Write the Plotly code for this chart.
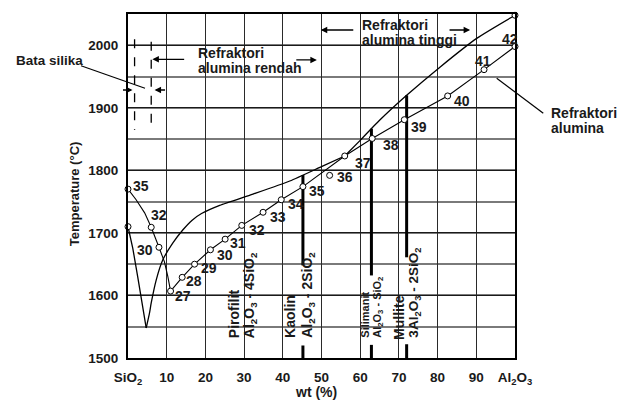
import numpy as np
import plotly.graph_objects as go

# ---------------- data ----------------
# SiO2-Al2O3 liquidus (left branch + right branch up to Al2O3)
liq_x = [0.0, 1.25, 2.5, 3.7, 4.7, 5.5, 6.0, 7.3, 9.0, 11.6, 14.2, 16.5, 19.0, 23.7, 32.3, 41.8, 50.0, 56.0, 60.0, 65.0, 72.0, 80.6, 90.1, 100.0]
liq_T = [1710, 1675, 1630, 1585, 1548, 1570, 1588, 1625, 1657, 1684, 1705, 1720, 1731, 1744, 1762, 1783, 1806, 1823, 1848, 1880, 1920, 1965, 2011, 2048]

# pyrometric cone curve of refractories (line path)
cone_line_x = [0.0, 2.1, 4.3, 6.0, 8.0, 9.4, 10.3, 11.0, 14.0, 17.2, 21.3, 25.1, 29.4, 34.9, 39.6, 45.2, 56.0, 63.1, 71.4, 82.6, 92.0, 100.0]
cone_line_T = [1770, 1753, 1732, 1709, 1677, 1654, 1630, 1607, 1629, 1650, 1673, 1690, 1712, 1733, 1753, 1774, 1823, 1851, 1881, 1919, 1961, 1998]

# cone points (marker + cone number)
cone_x = [0.0, 6.0, 8.0, 11.0, 14.0, 17.2, 21.3, 25.1, 29.4, 34.9, 39.6, 45.2, 52.1, 56.0, 63.1, 71.4, 82.6, 92.0, 100.0]
cone_T = [1770, 1709, 1677, 1607, 1629, 1650, 1673, 1690, 1712, 1733, 1753, 1774, 1792, 1823, 1851, 1881, 1919, 1961, 1998]
cone_lbl = ['35', '32', '30', '27', '28', '29', '30', '31', '32', '33', '34', '35', '36', '37', '38', '39', '40', '41', '42']

# compounds (wt% Al2O3)
comp_x = [45.2, 62.9, 72.0]          # Kaolin, Silimanit, Mullite lines
comp_low = [1648, 1632, 1661]       # lower end of the upper part of each line
comp_stub = [1520, 1521, 1522]      # top of short stub at the bottom

# silica brick range (dashed)
silika_x = [1.7, 6.0]

x_ticks = [0, 10, 20, 30, 40, 50, 60, 70, 80, 90, 100]
x_tick_text = ['SiO<sub>2</sub>', '10', '20', '30', '40', '50', '60', '70', '80', '90', 'Al<sub>2</sub>O<sub>3</sub>']
y_ticks = [1500, 1600, 1700, 1800, 1900, 2000]

# ---------------- figure ----------------
FONT = "Liberation Sans, Arial, sans-serif"
fig = go.Figure()

# composition lines
comp_top = np.interp(comp_x, liq_x[4:], liq_T[4:])
for cx, top, low, stub in zip(comp_x, comp_top, comp_low, comp_stub):
    fig.add_trace(go.Scatter(x=[cx, cx, None, cx, cx], y=[top, low, None, stub, 1500],
                             mode='lines', line=dict(color='black', width=3),
                             hoverinfo='skip', showlegend=False))

# liquidus: left branch (linear), right branch to the kink (smooth), high-alumina part (smooth)
i_min, i_kink = 4, 17
fig.add_trace(go.Scatter(x=liq_x[:i_min + 1], y=liq_T[:i_min + 1], mode='lines',
                         line=dict(color='black', width=1.3), showlegend=False))
fig.add_trace(go.Scatter(x=liq_x[i_min:i_kink + 1], y=liq_T[i_min:i_kink + 1], mode='lines',
                         line=dict(color='black', width=1.3, shape='spline', smoothing=0.6),
                         showlegend=False))
fig.add_trace(go.Scatter(x=liq_x[i_kink:], y=liq_T[i_kink:], mode='lines',
                         line=dict(color='black', width=1.3, shape='spline', smoothing=0.6),
                         showlegend=False))
fig.add_trace(go.Scatter(x=cone_line_x, y=cone_line_T, mode='lines',
                         line=dict(color='black', width=1.1), showlegend=False))
fig.add_trace(go.Scatter(x=[liq_x[0], liq_x[-1]], y=[liq_T[0], liq_T[-1]], mode='markers',
                         marker=dict(symbol='circle', size=6, color='white',
                                     line=dict(color='black', width=1)),
                         cliponaxis=False, showlegend=False))
fig.add_trace(go.Scatter(x=cone_x, y=cone_T, mode='markers',
                         marker=dict(symbol='circle', size=6, color='white',
                                     line=dict(color='black', width=1)),
                         cliponaxis=False, showlegend=False))

anns = []
# cone number labels: (xanchor, xshift, yshift)
lbl_off = [('left', 3, 3), ('left', -2, 12), ('right', -4, -3), ('left', 2, -4.5),
           ('left', 2, -4), ('left', 4.5, -4), ('left', 4.5, -5), ('left', 3, -3.5),
           ('left', 4.8, -5), ('left', 4.5, -5), ('left', 4.5, -4.5), ('left', 4.5, -4),
           ('left', 5.5, -2), ('left', 7.8, -6.6), ('left', 8.5, -6.7), ('left', 5, -7.4),
           ('left', 4.5, -5.3), ('left', -11, 8.3), ('left', -15, 7.7)]
for cx, ct, lb, (xa, xs, ys) in zip(cone_x, cone_T, cone_lbl, lbl_off):
    anns.append(dict(x=cx, y=ct, text=lb, showarrow=False, xanchor=xa, yanchor='middle',
                     xshift=xs, yshift=ys, font=dict(size=14, weight='bold')))

# text labels
def txt(x, y, s, size=14, xa='left', ya='middle', angle=0, ref='data'):
    d = dict(x=x, y=y, text=s, showarrow=False, xanchor=xa, yanchor=ya,
             textangle=angle, font=dict(size=size, weight='bold'))
    if ref == 'paper':
        d.update(xref='paper', yref='paper')
    anns.append(d)

txt(-0.294, 0.866, 'Bata silika', 13.5, ref='paper')
txt(17.6, 1987, 'Refraktori')
txt(17.6, 1963, 'alumina rendah')
txt(59.9, 2033, 'Refraktori')
txt(59.9, 2008, 'alumina tinggi')
txt(1.0886, 0.7113, 'Refraktori', ref='paper')
txt(1.0886, 0.6677, 'alumina', ref='paper')

# vertical compound labels
txt(27.6, 1529, 'Pirofilit', 14, 'center', 'bottom', -90)
txt(31.6, 1529, 'Al<sub>2</sub>O<sub>3</sub> - 4SiO<sub>2</sub>', 14, 'center', 'bottom', -90)
txt(42.0, 1529, 'Kaolin', 14, 'center', 'bottom', -90)
txt(46.5, 1529, 'Al<sub>2</sub>O<sub>3</sub> - 2SiO<sub>2</sub>', 14, 'center', 'bottom', -90)
txt(61.2, 1529, 'Silimanit', 11, 'center', 'bottom', -90)
txt(64.7, 1529, 'Al<sub>2</sub>O<sub>3</sub> - SiO<sub>2</sub>', 11, 'center', 'bottom', -90)
txt(70.2, 1526, 'Mullite', 14, 'center', 'bottom', -90)
txt(74.1, 1529, '3Al<sub>2</sub>O<sub>3</sub> - 2SiO<sub>2</sub>', 13.5, 'center', 'bottom', -90)

# arrows
def arrow(x0, y0, x1, y1):
    anns.append(dict(x=x1, y=y1, ax=x0, ay=y0, axref='x', ayref='y', xref='x', yref='y',
                     text='', showarrow=True, arrowhead=2, arrowsize=1, arrowwidth=1.3,
                     arrowcolor='black', standoff=0, startstandoff=0))

arrow(-1.68, 1928.5, 1.16, 1928.5)
arrow(9.96, 1928.5, 6.86, 1928.5)
arrow(14.9, 1977.5, 6.3, 1977.5)
arrow(43.1, 1976.5, 48.8, 1976.5)
arrow(58.6, 2024.4, 49.8, 2024.4)
arrow(82.7, 2024.4, 88.4, 2024.4)

# axis titles
anns.append(dict(xref='paper', yref='paper', x=0.486, y=-0.10, text='wt (%)', showarrow=False,
                 xanchor='center', yanchor='middle', font=dict(size=14, weight='bold')))
anns.append(dict(xref='paper', yref='paper', x=-0.136, y=0.477, text='Temperature (°C)',
                 showarrow=False, textangle=-90, xanchor='center', yanchor='middle',
                 font=dict(size=13, weight='bold')))

shapes = [
    dict(type='line', x0=silika_x[0], x1=silika_x[0], y0=2009.6, y1=1864.5,
         line=dict(color='black', width=1.3, dash='dash')),
    dict(type='line', x0=silika_x[1], x1=silika_x[1], y0=2005.7, y1=1869.8,
         line=dict(color='black', width=1.3, dash='dash')),
    dict(type='line', xref='paper', yref='paper', x0=-0.1214, x1=0.0439, y0=0.8497, y1=0.7840,
         line=dict(color='black', width=1.2)),
    dict(type='line', xref='paper', yref='paper', x0=0.9527, x1=1.0731, y0=0.8131, y1=0.7113,
         line=dict(color='black', width=1.2)),
]

fig.update_layout(
    width=623, height=403,
    margin=dict(l=128, r=108, t=14, b=45),
    paper_bgcolor='white', plot_bgcolor='white',
    font=dict(family=FONT, size=13, color='#1a1a1a'),
    annotations=anns, shapes=shapes, showlegend=False,
    xaxis=dict(range=[0, 100], tickvals=x_ticks, ticktext=x_tick_text,
               showgrid=True, gridcolor='#2a2a2a', gridwidth=1,
               showline=True, linecolor='black', linewidth=2, mirror=True,
               ticks='', ticklabelstandoff=6, zeroline=False,
               tickfont=dict(size=13.5, weight='bold', family=FONT)),
    yaxis=dict(range=[1500, 2050], tickvals=y_ticks,
               showgrid=True, gridcolor='#1a1a1a', gridwidth=1,
               minor=dict(dtick=50, tick0=1500, showgrid=True, gridcolor='#7a7a7a', gridwidth=1.5),
               showline=True, linecolor='black', linewidth=2, mirror=True,
               ticks='', ticklabelstandoff=5, zeroline=False,
               tickfont=dict(size=13.5, weight='bold', family=FONT)),
)

fig.write_html("out.html", config={'displayModeBar': False},
               post_script="document.body.style.margin='0';document.body.style.overflow='hidden';")
